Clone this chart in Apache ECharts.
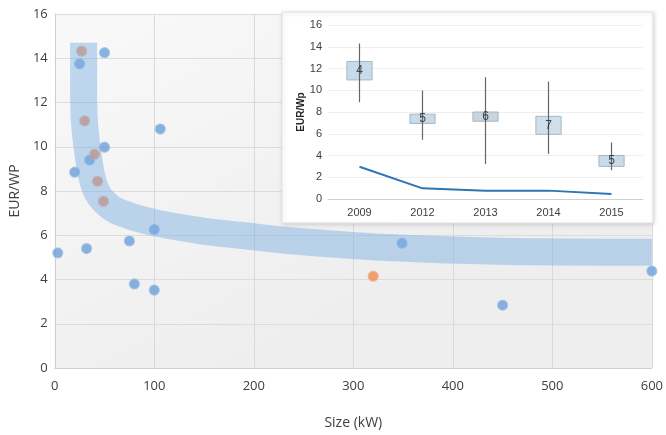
<!DOCTYPE html>
<html>
<head>
<meta charset="utf-8">
<script src="https://cdn.jsdelivr.net/npm/echarts@6/dist/echarts.min.js"></script>
<style>html,body{margin:0;padding:0;background:#fff;}#c{width:666px;height:435px;}</style>
</head>
<body>
<div id="c"></div>
<script>
// Main scatter: size (kW) vs EUR/Wp
const blueX = [3, 25, 50, 20, 35, 50, 106, 32, 75, 80, 100, 100, 349, 450, 600];
const blueY = [5.2, 13.75, 14.25, 8.85, 9.4, 9.98, 10.8, 5.4, 5.74, 3.8, 6.26, 3.52, 5.64, 2.84, 4.38];
const orangeX = [27, 30, 40, 43, 49, 320];
const orangeY = [14.32, 11.17, 9.66, 8.44, 7.53, 4.15];
// Trend band centreline
const bandX = [29, 29, 30, 33, 37, 42, 49, 62, 97, 147, 186, 246, 346, 446, 600];
const bandY = [14.7, 12.5, 11.0, 9.8, 8.7, 8.0, 7.55, 7.1, 6.6, 6.2, 6.0, 5.72, 5.42, 5.28, 5.23];
// Inset: yearly price distribution
const years = ['2009', '2012', '2013', '2014', '2015'];
const boxLow = [10.95, 6.95, 7.15, 5.95, 3.0];
const boxHigh = [12.65, 7.8, 8.0, 7.6, 4.0];
const whiskLow = [8.9, 5.45, 3.2, 4.15, 2.65];
const whiskHigh = [14.3, 9.98, 11.2, 10.8, 5.2];
const counts = [4, 5, 6, 7, 5];
const lineVals = [2.97, 0.98, 0.77, 0.77, 0.46];

const chart = echarts.init(document.getElementById('c'), null, {renderer: 'canvas'});
const font = 'Open Sans, Liberation Sans, Arial, sans-serif';
const insetFont = 'Liberation Sans, Arial, sans-serif';

const pts = (xs, ys) => xs.map((x, i) => [x, ys[i]]);
const boxData = years.map((y, i) => [i, boxLow[i], boxHigh[i], whiskLow[i], whiskHigh[i]]);
const boxColors = ['#c8dbea', '#c9dae8', '#c8d4de', '#cfe0ec', '#c9dbe9'];

chart.setOption({
  animation: false,
  graphic: [{
    type: 'rect', z: 5,
    shape: {x: 282, y: 12, width: 371, height: 211},
    style: {fill: '#ffffff', stroke: '#e2e2e2', lineWidth: 1, shadowBlur: 4, shadowColor: 'rgba(0,0,0,0.15)', shadowOffsetX: 1, shadowOffsetY: 1}
  }],
  grid: [
    {left: 53, right: 11, top: 14, bottom: 66, show: true, borderWidth: 0,
     backgroundColor: {type: 'linear', x: 0, y: 0, x2: 0.3, y2: 1, colorStops: [{offset: 0, color: '#f9f9f9'}, {offset: 1, color: '#eeeeee'}]}},
    {left: 328, right: 23, top: 25, bottom: 236, z: 6}
  ],
  xAxis: [
    {type: 'value', gridIndex: 0, min: 0, max: 600, interval: 100,
     name: 'Size (kW)', nameLocation: 'middle', nameGap: 48,
     nameTextStyle: {fontFamily: font, fontSize: 14, color: '#404040'},
     axisLine: {show: true, lineStyle: {color: '#d0d0d0'}}, axisTick: {show: false},
     axisLabel: {fontFamily: font, fontSize: 13, color: '#404040', margin: 12},
     splitLine: {show: true, lineStyle: {color: '#d9d9d9'}}},
    {type: 'category', gridIndex: 1, data: years, z: 6,
     axisLine: {show: true, lineStyle: {color: '#d0d0d0'}}, axisTick: {show: false},
     axisLabel: {fontFamily: insetFont, fontSize: 11, color: '#404040', margin: 8},
     splitLine: {show: false}}
  ],
  yAxis: [
    {type: 'value', gridIndex: 0, min: 0, max: 16, interval: 2,
     name: 'EUR/WP', nameLocation: 'middle', nameGap: 24,
     nameTextStyle: {fontFamily: font, fontSize: 14, color: '#404040'},
     axisLine: {show: true, lineStyle: {color: '#d0d0d0'}}, axisTick: {show: false},
     axisLabel: {fontFamily: font, fontSize: 13, color: '#404040', margin: 7},
     splitLine: {show: true, lineStyle: {color: '#dcdcdc'}}},
    {type: 'value', gridIndex: 1, min: 0, max: 16, interval: 2, z: 6,
     name: 'EUR/Wp', nameLocation: 'middle', nameGap: 22,
     nameTextStyle: {fontFamily: insetFont, fontSize: 10, fontWeight: 'bold', color: '#262626'},
     axisLine: {show: false}, axisTick: {show: false},
     axisLabel: {fontFamily: insetFont, fontSize: 11, color: '#404040', margin: 6},
     splitLine: {show: true, lineStyle: {color: '#eeeeee'}}}
  ],
  series: [
    {type: 'scatter', xAxisIndex: 0, yAxisIndex: 0, z: 2, data: pts(blueX, blueY), symbolSize: 10,
     itemStyle: {color: '#6c9fd8', borderColor: '#9cc0e8', borderWidth: 1.2}},
    {type: 'scatter', xAxisIndex: 0, yAxisIndex: 0, z: 2, data: pts(orangeX, orangeY), symbolSize: 10,
     itemStyle: {color: '#ef8a4f', borderColor: '#f5b38b', borderWidth: 1.2}},
    {type: 'line', xAxisIndex: 0, yAxisIndex: 0, z: 3, data: pts(bandX, bandY), smooth: 0.35,
     showSymbol: false, symbol: 'none', silent: true,
     lineStyle: {width: 27, color: 'rgba(120,170,226,0.45)', cap: 'butt', join: 'round'}},
    {type: 'custom', xAxisIndex: 1, yAxisIndex: 1, z: 10, data: boxData,
     renderItem: function (params, api) {
       const i = api.value(0);
       const pLow = api.coord([i, api.value(1)]);
       const pHigh = api.coord([i, api.value(2)]);
       const wLow = api.coord([i, api.value(3)]);
       const wHigh = api.coord([i, api.value(4)]);
       const w = api.size([1, 0])[0] * 0.4;
       return {type: 'group', children: [
         {type: 'rect', shape: {x: pHigh[0] - w / 2, y: pHigh[1], width: w, height: pLow[1] - pHigh[1]},
          style: {fill: boxColors[params.dataIndex], stroke: '#a3b8c8', lineWidth: 1}},
         {type: 'line', shape: {x1: wLow[0], y1: wLow[1], x2: wHigh[0], y2: wHigh[1]},
          style: {stroke: '#666666', lineWidth: 1.2}}
       ]};
     }},
    {type: 'scatter', xAxisIndex: 1, yAxisIndex: 1, z: 11, symbolSize: 0,
     data: years.map((y, i) => ({value: [i, (boxLow[i] + boxHigh[i]) / 2], count: counts[i]})),
     label: {show: true, position: 'inside', fontFamily: insetFont, fontSize: 12, color: '#262626',
       formatter: p => String(p.data.count)}},
    {type: 'line', xAxisIndex: 1, yAxisIndex: 1, z: 11, data: lineVals, showSymbol: false, symbol: 'none',
     lineStyle: {width: 2, color: '#2e75b6'}}
  ]
});
</script>
</body>
</html>
